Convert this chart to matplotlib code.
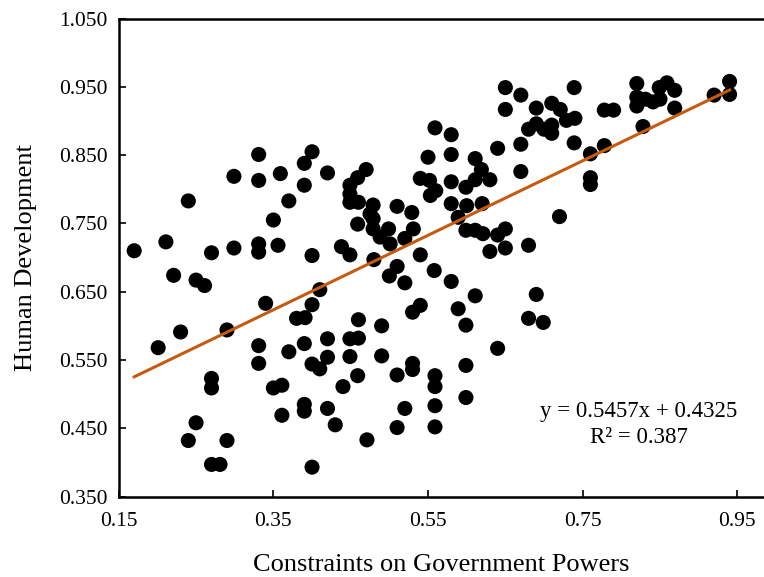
import matplotlib
matplotlib.use("Agg")
import matplotlib.pyplot as plt
import numpy as np

plt.rcParams['font.family'] = ['Liberation Serif', 'DejaVu Serif']

# Constraints on Government Powers (x) and Human Development (y)
constraints = [
    0.170, 0.201, 0.211, 0.221, 0.230, 0.240, 0.240, 0.250, 0.250, 0.261,
    0.270, 0.270, 0.270, 0.270, 0.281, 0.290, 0.290, 0.299, 0.299, 0.331,
    0.331, 0.331, 0.331, 0.331, 0.331, 0.340, 0.350, 0.350, 0.356, 0.361,
    0.359, 0.361, 0.370, 0.370, 0.380, 0.390, 0.390, 0.391, 0.390, 0.390,
    0.390, 0.400, 0.400, 0.400, 0.400, 0.400, 0.410, 0.410, 0.420, 0.420,
    0.420, 0.420, 0.430, 0.438, 0.440, 0.449, 0.449, 0.449, 0.449, 0.449,
    0.449, 0.459, 0.460, 0.459, 0.460, 0.460, 0.459, 0.470, 0.471, 0.475,
    0.479, 0.479, 0.479, 0.480, 0.488, 0.490, 0.490, 0.499, 0.500, 0.501,
    0.510, 0.510, 0.510, 0.510, 0.520, 0.520, 0.520, 0.529, 0.530, 0.530,
    0.530, 0.531, 0.540, 0.540, 0.540, 0.550, 0.552, 0.553, 0.560, 0.559,
    0.558, 0.559, 0.559, 0.559, 0.559, 0.580, 0.580, 0.580, 0.580, 0.580,
    0.589, 0.589, 0.599, 0.600, 0.599, 0.599, 0.599, 0.599, 0.611, 0.611,
    0.611, 0.611, 0.619, 0.620, 0.621, 0.630, 0.630, 0.640, 0.640, 0.640,
    0.650, 0.650, 0.650, 0.650, 0.670, 0.670, 0.670, 0.680, 0.680, 0.680,
    0.690, 0.690, 0.690, 0.699, 0.700, 0.710, 0.710, 0.710, 0.720, 0.721,
    0.729, 0.739, 0.739, 0.740, 0.760, 0.760, 0.760, 0.778, 0.778, 0.790,
    0.820, 0.820, 0.820, 0.828, 0.831, 0.841, 0.849, 0.850, 0.859, 0.869,
    0.869, 0.920, 0.940, 0.940,
]
human_dev = [
    0.710, 0.568, 0.723, 0.674, 0.591, 0.783, 0.432, 0.667, 0.458, 0.659,
    0.707, 0.523, 0.509, 0.397, 0.397, 0.594, 0.432, 0.819, 0.714, 0.851,
    0.813, 0.720, 0.708, 0.571, 0.545, 0.633, 0.755, 0.509, 0.718, 0.513,
    0.823, 0.469, 0.783, 0.562, 0.611, 0.838, 0.806, 0.612, 0.574, 0.485,
    0.475, 0.855, 0.703, 0.631, 0.544, 0.393, 0.653, 0.537, 0.824, 0.581,
    0.554, 0.479, 0.455, 0.716, 0.511, 0.806, 0.793, 0.781, 0.704, 0.581,
    0.555, 0.817, 0.781, 0.749, 0.609, 0.582, 0.527, 0.829, 0.433, 0.764,
    0.777, 0.757, 0.742, 0.697, 0.730, 0.600, 0.556, 0.742, 0.673, 0.720,
    0.775, 0.687, 0.528, 0.451, 0.728, 0.663, 0.479, 0.766, 0.620, 0.545,
    0.536, 0.742, 0.816, 0.704, 0.630, 0.847, 0.813, 0.791, 0.798, 0.890,
    0.681, 0.527, 0.511, 0.483, 0.452, 0.880, 0.851, 0.811, 0.779, 0.665,
    0.759, 0.625, 0.803, 0.776, 0.740, 0.601, 0.542, 0.495, 0.845, 0.814,
    0.740, 0.644, 0.829, 0.779, 0.735, 0.814, 0.709, 0.860, 0.733, 0.567,
    0.949, 0.917, 0.742, 0.714, 0.938, 0.866, 0.826, 0.888, 0.718, 0.611,
    0.919, 0.896, 0.646, 0.605, 0.888, 0.926, 0.894, 0.882, 0.760, 0.917,
    0.901, 0.949, 0.868, 0.904, 0.852, 0.817, 0.807, 0.916, 0.864, 0.916,
    0.955, 0.935, 0.922, 0.892, 0.932, 0.928, 0.949, 0.932, 0.956, 0.945,
    0.919, 0.938, 0.958, 0.939,
]

slope = 0.5457
intercept = 0.4325
r_squared = 0.387

x_ticks = [0.15, 0.35, 0.55, 0.75, 0.95]
y_ticks = [0.35, 0.45, 0.55, 0.65, 0.75, 0.85, 0.95, 1.05]

fig = plt.figure(figsize=(7.64, 5.77), dpi=100)
ax = fig.add_axes([0.1554, 0.1395, 0.8446, 0.8282])

ax.scatter(constraints, human_dev, s=118, color='black', edgecolors='none', zorder=3)

xs = np.array([min(constraints), max(constraints)])
ax.plot(xs, slope * xs + intercept, color='#C55A11', linewidth=2.2, zorder=4)

ax.text(0.823, 0.475, f"y = {slope:.4f}x + {intercept:.4f}", ha='center', va='center', fontsize=16.5)
ax.text(0.823, 0.437, f"R² = {r_squared:.3f}", ha='center', va='center', fontsize=16.5)

ax.set_xlim(0.15, 0.9845)
ax.set_ylim(0.35, 1.05)
ax.set_xticks(x_ticks)
ax.set_yticks(y_ticks)
ax.set_xticklabels([f"{v:.2f}" for v in x_ticks])
ax.set_yticklabels([f"{v:.3f}" for v in y_ticks])
ax.tick_params(direction='in', length=5, width=1.2, labelsize=15.5, pad=8)
ax.tick_params(axis='x', pad=11)

for s in ['left', 'bottom', 'top']:
    ax.spines[s].set_linewidth(1.8)
ax.spines['right'].set_visible(False)

ax.set_xlabel("Constraints on Government Powers", fontsize=19, labelpad=17)
ax.set_ylabel("Human Development", fontsize=19, labelpad=16)

fig.savefig("out.png", dpi=100)
